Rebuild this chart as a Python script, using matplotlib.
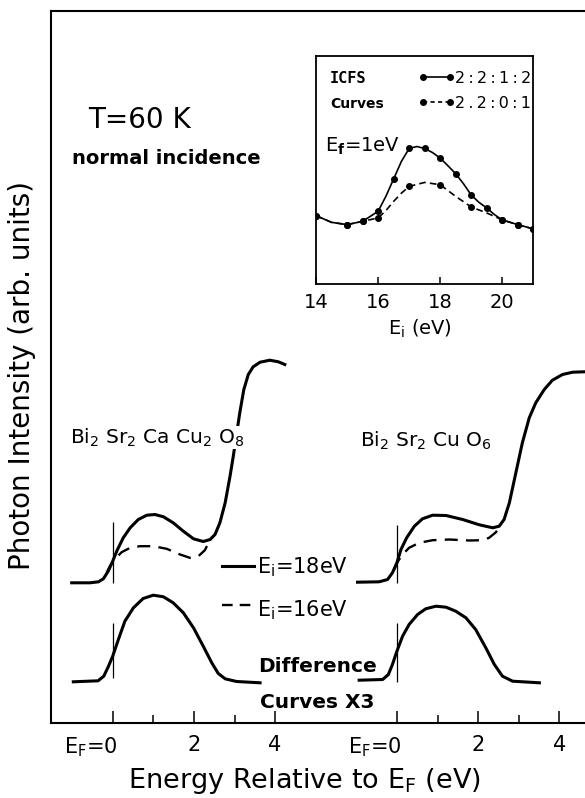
import matplotlib
matplotlib.use("Agg")
import matplotlib.pyplot as plt
from matplotlib.lines import Line2D
from matplotlib.transforms import ScaledTranslation

# ---------------- data ----------------
# main panel: energy relative to E_F (eV) vs photon intensity (arb. units)
# Bi2Sr2CaCu2O8, Ei = 18 eV
cacu_18_E = [-1.01, -0.56, -0.35, -0.23, -0.11, 0.0, 0.11, 0.26, 0.43, 0.63,
             0.84, 1.04, 1.25, 1.49, 1.74, 1.99, 2.23, 2.40, 2.52, 2.64,
             2.77, 2.89, 2.97, 3.13, 3.23, 3.34, 3.46, 3.63, 3.87, 4.08, 4.24]
cacu_18_I = [139.7, 139.7, 140.7, 143.7, 151.3, 161.3, 172.3, 184.7, 194.7, 203,
             207.3, 208, 205.7, 199.7, 191.3, 183.7, 181, 183, 188, 199.7,
             219.7, 246.3, 266.3, 309.7, 333, 348, 355.7, 360.3, 362.3, 360.7, 358]
# Bi2Sr2CaCu2O8, Ei = 16 eV
cacu_16_E = [-0.15, -0.07, 0.06, 0.22, 0.43, 0.67, 1.0, 1.33, 1.66, 1.90,
             2.11, 2.27, 2.38]
cacu_16_I = [149.7, 156.3, 163.7, 170.3, 174.7, 176.3, 176.3, 173.7, 168, 164.7,
             166.3, 172.3, 181.3]
# Bi2Sr2CaCu2O8, difference curve x3
cacu_diff_E = [-0.97, -0.36, -0.22, -0.11, 0.0, 0.14, 0.30, 0.51, 0.75, 1.0,
               1.25, 1.49, 1.74, 1.99, 2.23, 2.44, 2.60, 2.77, 3.05, 3.63]
cacu_diff_I = [40.7, 41.7, 46.3, 55.7, 66.3, 83, 101.3, 114.7, 124, 127.3,
               125.7, 119.7, 109.7, 94.7, 76.3, 59.7, 49, 43.7, 41, 39.7]

# Bi2Sr2CuO6, Ei = 18 eV
cu_18_E = [-0.97, -0.44, -0.23, -0.11, 0.0, 0.10, 0.24, 0.43, 0.63, 0.88,
           1.21, 1.62, 2.03, 2.36, 2.52, 2.64, 2.77, 2.93, 3.09, 3.26,
           3.42, 3.63, 3.83, 4.08, 4.33, 4.61, 4.9]
cu_18_I = [140.3, 140.7, 143, 149.7, 159.7, 173, 184.7, 196.3, 203.7, 207.3,
           207, 203, 197.7, 194.7, 196.3, 203, 219.7, 249.7, 279.7, 304.7,
           319.7, 333, 342.3, 348, 350.3, 350.7, 351]
# Bi2Sr2CuO6, Ei = 16 eV
cu_16_E = [-0.07, 0.01, 0.14, 0.30, 0.55, 0.88, 1.29, 1.78, 2.11, 2.27,
           2.44, 2.52]
cu_16_I = [153, 160.3, 168, 174.7, 179.7, 182.3, 183, 182, 182.3, 184.7,
           190.3, 195.7]
# Bi2Sr2CuO6, difference curve x3
cu_diff_E = [-0.93, -0.35, -0.21, -0.11, 0.0, 0.14, 0.30, 0.51, 0.71, 0.96,
             1.21, 1.45, 1.70, 1.94, 2.19, 2.40, 2.60, 2.85, 3.51]
cu_diff_I = [42.3, 43, 48, 58, 71.3, 86.3, 98, 108, 113.7, 116.3,
             115.3, 111.3, 104.7, 93, 74.7, 58, 46.3, 41.3, 39.7]

# inset: ICFS curves at Ef = 1 eV vs Ei (eV)
ins_2212_E = [14, 15, 15.5, 16, 16.5, 17, 17.5, 18, 18.5, 19, 19.5, 20, 20.5, 21]
ins_2212_I = [68, 59, 62.3, 72.3, 104.7, 135.3, 135.3, 125.7, 110, 88.7, 75.7,
              63.7, 59, 54.7]
ins_2201_E = [14, 15, 15.5, 16, 17, 18, 19, 20, 20.5, 21]
ins_2201_I = [68, 59, 62.3, 65.7, 97.3, 99, 76.7, 63.7, 59, 54.7]
# the drawn curves through the points
trace_2212_E = [14, 14.5, 15, 15.5, 16, 16.25, 16.5, 16.75, 17, 17.25, 17.5,
                17.75, 18, 18.25, 18.5, 18.75, 19, 19.25, 19.5, 19.75, 20, 20.5, 21]
trace_2212_I = [68, 61.3, 59, 62.3, 72.3, 87.3, 104.7, 122.3, 135.3, 137.3,
                135.3, 131.3, 125.7, 118, 110, 100, 88.7, 81.3, 75.7, 69, 63.7, 59, 54.7]
trace_2201_E = [14, 14.5, 15, 15.5, 16, 16.25, 16.5, 16.75, 17, 17.5, 18, 18.5,
                19, 19.5, 20, 20.5, 21]
trace_2201_I = [68, 61.3, 59, 62.3, 65.7, 73, 82.3, 90.5, 97.3, 101.3, 99, 87.3,
                76.7, 70.7, 63.7, 59, 54.7]

main_ticks = [0, 2, 4]
main_minor = [1, 3]
main_ticklabels = ["E$_\\mathrm{F}$=0", "2", "4"]
inset_ticks = [14, 16, 18, 20]

# ---------------- layout ----------------
W, H = 585, 798
SHIFT = 7.0          # second panel's E_F along the shared axis
PX0, PX_PER_EV = 112.7, 40.6


def fx(x):
    return x / W


def fy(y):
    return 1 - y / H


fig = plt.figure(figsize=(W / 100, H / 100), dpi=100)

ax = fig.add_axes([fx(51), fy(722.5), (600 - 51) / W, (722.5 - 11) / H])
ax.set_xlim((51 - PX0) / PX_PER_EV, (600 - PX0) / PX_PER_EV)
ax.set_ylim(0, 711.5)

lw = 2.2
dash = (0, (5.5, 3.5))
solid = dict(color="k", lw=lw, solid_joinstyle="round", zorder=2)
dashed = dict(color="k", lw=1.7, ls=dash, dash_joinstyle="round", zorder=2)
ax.plot(cacu_18_E, cacu_18_I, **solid)
ax.plot(cacu_16_E, cacu_16_I, **dashed)
ax.plot(cacu_diff_E, cacu_diff_I, **solid)
ax.plot([e + SHIFT for e in cu_18_E], cu_18_I, **solid)
ax.plot([e + SHIFT for e in cu_16_E], cu_16_I, **dashed)
ax.plot([e + SHIFT for e in cu_diff_E], cu_diff_I, **solid)

# E_F markers
ax.vlines([0, 0], [139.7, 45], [201, 100], color="k", lw=0.9)
ax.vlines([SHIFT, SHIFT], [140, 41], [198, 100], color="k", lw=0.9)

ax.set_xticks(main_ticks + [t + SHIFT for t in main_ticks])
ax.set_xticklabels(main_ticklabels * 2)
ax.set_xticks(main_minor + [t + SHIFT for t in main_minor], minor=True)
ax.set_yticks([])
ax.tick_params(axis="x", which="major", direction="in", length=9, width=1.1,
               labelsize=15, pad=9)
ax.tick_params(axis="x", which="minor", direction="in", length=6, width=1.1)
for tk in ax.xaxis.get_major_ticks():
    if tk.label1.get_text().startswith("E"):
        tk.label1.set_horizontalalignment("right")
        tk.label1.set_transform(tk.label1.get_transform()
                                + ScaledTranslation(5 / 100, 0, fig.dpi_scale_trans))
for s in ["left", "top", "bottom"]:
    ax.spines[s].set_linewidth(1.5)
ax.spines["right"].set_visible(False)

ax.set_xlabel("Energy Relative to E$_\\mathrm{F}$ (eV)", fontsize=19.5)
ax.xaxis.set_label_coords((304 - 51) / 549, (722.5 - 788) / 711.5)
ax.xaxis.label.set_va("baseline")
ax.set_ylabel("Photon Intensity (arb. units)", fontsize=20)
ax.yaxis.set_label_coords((22 - 51) / 549, (722.5 - 375.5) / 711.5)
ax.yaxis.label.set_va("center")

# annotations
fig.text(fx(88), fy(127.7), "T=60 K", fontsize=20, va="baseline")
fig.text(fx(72), fy(164.3), "normal incidence", fontsize=14, fontweight="bold", va="baseline")
fig.text(fx(70), fy(443.3), "Bi$_2$ Sr$_2$ Ca Cu$_2$ O$_8$", fontsize=14.5, va="baseline",
         bbox=dict(facecolor="white", edgecolor="none", pad=0.5), zorder=5)
fig.text(fx(360), fy(446.7), "Bi$_2$ Sr$_2$ Cu O$_6$", fontsize=14.5, va="baseline")

fig.add_artist(Line2D([fx(222), fx(254)], [fy(566), fy(566)], color="k", lw=lw))
fig.add_artist(Line2D([fx(222), fx(254)], [fy(605), fy(605)], color="k", lw=1.7,
                      ls=(0, (4.5, 3))))
fig.text(fx(257), fy(573.5), "E$_\\mathrm{i}$=18eV", fontsize=15, va="baseline")
fig.text(fx(257), fy(616.5), "E$_\\mathrm{i}$=16eV", fontsize=15, va="baseline")
fig.text(fx(317), fy(671.7), "Difference", fontsize=14.5, fontweight="bold",
         ha="center", va="baseline")
fig.text(fx(317), fy(708.3), "Curves X3", fontsize=14.5, fontweight="bold",
         ha="center", va="baseline")

# ---------------- inset ----------------
ax_in = fig.add_axes([fx(316), fy(283.5), 217.3 / W, 227.5 / H])
ax_in.set_xlim(14, 21)
ax_in.set_ylim(0, 228)
ax_in.plot(trace_2212_E, trace_2212_I, color="k", lw=1.2, solid_joinstyle="round")
ax_in.plot(trace_2201_E, trace_2201_I, color="k", lw=1.2, ls=(0, (4, 2.5)))
ax_in.plot(ins_2212_E, ins_2212_I, "o", color="k", ms=4)
ax_in.plot(ins_2201_E, ins_2201_I, "o", color="k", ms=4)
ax_in.set_xticks(inset_ticks)
ax_in.set_yticks([])
ax_in.tick_params(axis="x", direction="in", length=5, width=1.1, labelsize=14, pad=7)
for s in ax_in.spines.values():
    s.set_linewidth(1.3)
ax_in.set_xlabel("E$_\\mathrm{i}$ (eV)", fontsize=14)
ax_in.xaxis.set_label_coords((420 - 316) / 217.3, (283.5 - 335) / 227.5)
ax_in.xaxis.label.set_va("baseline")

fig.text(fx(330), fy(83.3), "ICFS", fontsize=11, family="DejaVu Sans Mono",
         fontweight="bold", va="baseline")
fig.text(fx(330), fy(108.3), "Curves", fontsize=10, fontweight="bold", va="baseline")
fig.add_artist(Line2D([fx(423), fx(450)], [fy(76.7), fy(76.7)], color="k", lw=1.2,
                      marker="o", ms=4))
fig.add_artist(Line2D([fx(423), fx(450)], [fy(101.7), fy(101.7)], color="k", lw=1.2,
                      ls=(0, (2.5, 2)), marker="o", ms=4))
fig.text(fx(455), fy(83.3), "2\u2009:\u20092\u2009:\u20091\u2009:\u20092", fontsize=11.5,
         va="baseline")
fig.text(fx(455), fy(108.3), "2\u2009.\u20092\u2009:\u20090\u2009:\u20091", fontsize=11.5,
         va="baseline")
fig.text(fx(325), fy(151.7), "E$_\\mathbf{f}$=1eV", fontsize=14, va="baseline")

fig.savefig("out.png", dpi=100)
